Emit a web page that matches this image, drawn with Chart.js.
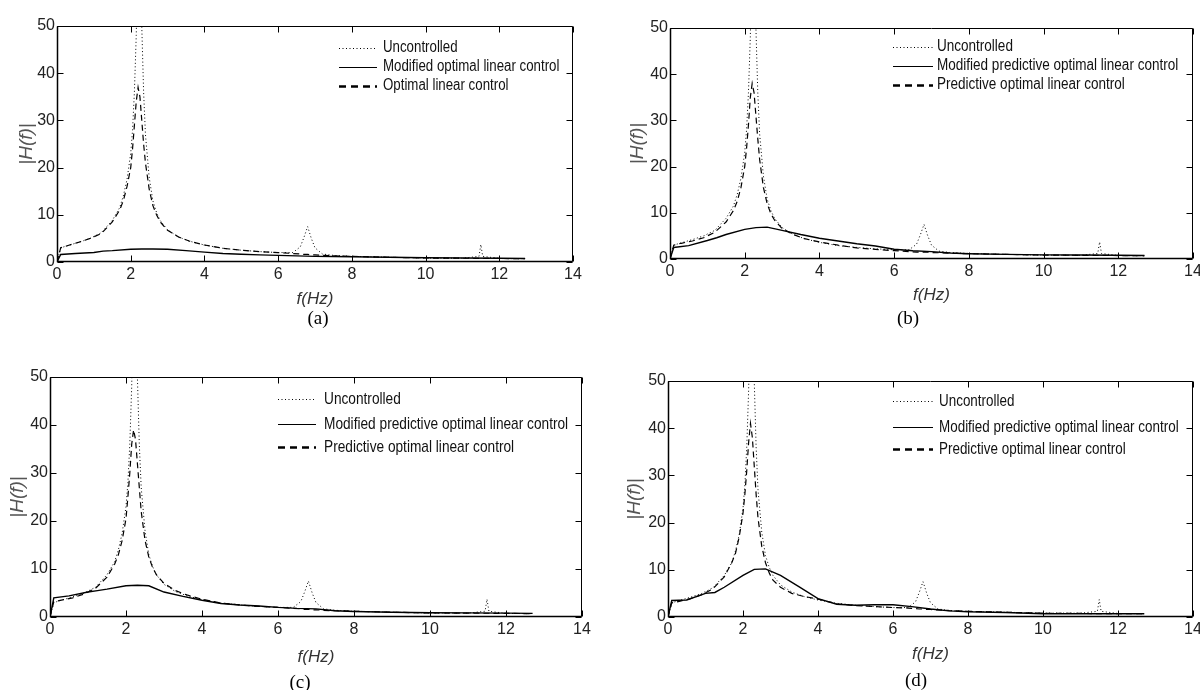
<!DOCTYPE html>
<html>
<head>
<meta charset="utf-8">
<title>|H(f)| frequency response</title>
<script src="https://cdn.jsdelivr.net/npm/chart.js@4.4.1/dist/chart.umd.min.js"></script>
<style>
    body { margin: 0; background: #fff; }
    #page { position: relative; width: 1200px; height: 690px; overflow: hidden; background: #fff; }
    .panel { position: absolute; }
    .caption {
        position: absolute;
        font-family: "Liberation Serif", "Times New Roman", serif;
        font-size: 19px;
        color: #000;
        transform: translate(-50%, -50%);
        white-space: nowrap;
    }
</style>
</head>
<body>
<div id="page">
    <div class="panel" style="left:0;top:0"><canvas id="chartA" width="600" height="340"></canvas></div>
    <div class="panel" style="left:600px;top:0"><canvas id="chartB" width="610" height="340"></canvas></div>
    <div class="panel" style="left:0;top:340px"><canvas id="chartC" width="600" height="350"></canvas></div>
    <div class="panel" style="left:600px;top:340px"><canvas id="chartD" width="610" height="350"></canvas></div>
    <div class="caption" style="left:318px;top:318px">(a)</div>
    <div class="caption" style="left:908px;top:318px">(b)</div>
    <div class="caption" style="left:300px;top:682px">(c)</div>
    <div class="caption" style="left:916px;top:680px">(d)</div>
</div>
<script>
// frequency grid used by the resonant curves (fine around 2.2 Hz, 6.8 Hz and 11.5 Hz)
const freqFine = [0, 0.1, 0.3, 0.6, 0.9, 1.2, 1.5, 1.7, 1.8, 1.9, 2.0, 2.05, 2.1, 2.15, 2.2, 2.25,
    2.3, 2.35, 2.4, 2.5, 2.6, 2.7, 2.8, 3.0, 3.3, 3.6, 4.0, 4.5, 5.0, 5.5, 6.0, 6.4,
    6.6, 6.7, 6.8, 6.9, 7.0, 7.2, 7.5, 8.0, 9.0, 10.0, 11.0, 11.45, 11.5, 11.55, 12.0, 12.7];

const uncontrolled = [0, 3.0, 3.5, 4.2, 5.0, 6.2, 8.8, 11.5, 14, 17.5, 23, 28, 36, 48, 70, 68,
    50, 36, 27, 18, 13, 10.5, 8.8, 6.8, 5.3, 4.4, 3.6, 2.9, 2.5, 2.2, 2.0, 2.0,
    3.2, 5.2, 7.5, 5.0, 3.0, 1.7, 1.4, 1.2, 1.0, 0.85, 0.8, 1.2, 3.7, 1.2, 0.75, 0.7];

const optimalA = [0, 3.0, 3.5, 4.2, 5.0, 6.0, 8.5, 11, 13, 16, 20, 24, 29, 34, 37, 35,
    30, 25, 21, 15.5, 12, 10, 8.5, 6.7, 5.3, 4.4, 3.6, 2.9, 2.5, 2.2, 2.0, 1.8,
    1.7, 1.6, 1.6, 1.5, 1.5, 1.4, 1.3, 1.2, 1.0, 0.85, 0.8, 0.78, 0.78, 0.78, 0.75, 0.7];

const predictiveB = [0, 3.0, 3.4, 3.9, 4.6, 5.8, 8.0, 10.5, 12.5, 15.5, 20, 24, 29, 35, 38, 36,
    31, 26, 21.5, 15.5, 12, 9.8, 8.4, 6.6, 5.3, 4.4, 3.7, 3.0, 2.4, 2.1, 1.8, 1.6,
    1.5, 1.5, 1.5, 1.5, 1.4, 1.35, 1.25, 1.15, 1.0, 0.85, 0.8, 0.78, 0.78, 0.78, 0.75, 0.7];

const predictiveC = [0, 3.2, 3.5, 4.0, 4.8, 6.0, 8.3, 11, 13, 16, 20.5, 25, 30, 36, 39, 37,
    32, 27, 22, 16, 12.5, 10.3, 8.8, 7.0, 5.5, 4.6, 3.7, 2.9, 2.5, 2.2, 2.0, 1.8,
    1.7, 1.6, 1.6, 1.5, 1.5, 1.4, 1.3, 1.2, 1.0, 0.85, 0.8, 0.78, 0.78, 0.78, 0.75, 0.7];

const predictiveD = [0, 3.0, 3.3, 3.9, 4.7, 6.0, 8.5, 11.5, 13.5, 17, 22, 26, 31, 37, 41, 38,
    32, 26, 21, 15, 11.5, 9.3, 7.8, 6.3, 5.0, 4.4, 3.8, 2.8, 2.4, 2.2, 2.0, 1.9,
    1.8, 1.7, 1.7, 1.6, 1.6, 1.5, 1.35, 1.2, 1.0, 0.8, 0.75, 0.72, 0.72, 0.72, 0.7, 0.7];

// coarser grid for the modified (smooth) responses
const freqCoarse = [0, 0.1, 0.5, 1.0, 1.25, 1.5, 2.0, 2.3, 2.6, 3.0, 3.5, 4.0, 4.5,
    5.0, 5.5, 6.0, 6.5, 7.0, 7.5, 8.0, 9.0, 10.0, 11.0, 12.0, 12.7];

const modifiedA = [0, 1.6, 1.8, 2.0, 2.3, 2.4, 2.7, 2.75, 2.75, 2.7, 2.4, 2.1, 1.8,
    1.65, 1.5, 1.4, 1.3, 1.2, 1.15, 1.1, 1.0, 0.9, 0.85, 0.8, 0.75];
const modifiedB = [0, 2.5, 2.9, 4.0, 4.6, 5.3, 6.4, 6.8, 6.9, 6.2, 5.3, 4.5, 3.9,
    3.3, 2.8, 2.1, 1.8, 1.6, 1.3, 1.15, 1.0, 0.9, 0.85, 0.8, 0.75];
const modifiedC = [0, 4.0, 4.4, 5.2, 5.5, 5.8, 6.5, 6.6, 6.5, 5.2, 4.3, 3.5, 2.8,
    2.5, 2.3, 2.0, 1.8, 1.7, 1.3, 1.15, 1.0, 0.9, 0.85, 0.8, 0.75];
const modifiedD = [0, 3.5, 3.6, 5.0, 5.2, 6.3, 8.8, 10.1, 10.2, 8.8, 6.4, 3.9, 2.7,
    2.5, 2.6, 2.6, 2.2, 1.7, 1.3, 1.1, 0.95, 0.7, 0.7, 0.7, 0.7];

const xTicks = [0, 2, 4, 6, 8, 10, 12, 14];
const yTicks = [0, 10, 20, 30, 40, 50];

const labelsA = ['Uncontrolled', 'Modified optimal linear control', 'Optimal linear control'];
const labelsPredictive = ['Uncontrolled', 'Modified predictive optimal linear control', 'Predictive optimal linear control'];

const FONT = '"Liberation Sans", Arial, Helvetica, sans-serif';

function toPoints(xs, ys) {
    return xs.map((x, i) => ({x: x, y: ys[i]}));
}

// box around the plot area with MATLAB style inward ticks on all four sides
const framePlugin = {
    id: 'frame',
    afterDatasetsDraw(chart) {
        const {ctx, chartArea: a, scales} = chart;
        const len = 6;
        const l = Math.round(a.left) + 0.5, r = Math.round(a.right) - 0.5;
        const t = Math.round(a.top) + 0.5, b = Math.round(a.bottom) - 0.5;
        ctx.save();
        ctx.strokeStyle = '#000';
        ctx.lineWidth = 1;
        ctx.beginPath();
        ctx.rect(l, t, r - l, b - t);
        xTicks.forEach(v => {
            const px = Math.round(scales.x.getPixelForValue(v)) + 0.5;
            ctx.moveTo(px, b); ctx.lineTo(px, b - len);
            ctx.moveTo(px, t); ctx.lineTo(px, t + len);
        });
        yTicks.forEach(v => {
            const py = Math.round(scales.y.getPixelForValue(v)) + 0.5;
            ctx.moveTo(l, py); ctx.lineTo(l + len, py);
            ctx.moveTo(r, py); ctx.lineTo(r - len, py);
        });
        ctx.stroke();
        // left and bottom axes are drawn a little heavier
        ctx.lineWidth = 1.5;
        ctx.beginPath();
        ctx.moveTo(l, t); ctx.lineTo(l, b); ctx.lineTo(r, b);
        ctx.stroke();
        ctx.restore();
    }
};

// legend drawn inside the plot area, without a box
const insideLegend = {
    id: 'insideLegend',
    afterDraw(chart, args, opts) {
        const ctx = chart.ctx;
        const styles = [
            {dash: [1, 2.5], width: 1},
            {dash: [], width: 1.2},
            {dash: [7, 5], width: 2.5}
        ];
        ctx.save();
        ctx.fillStyle = '#111';
        ctx.strokeStyle = '#000';
        ctx.textBaseline = 'middle';
        ctx.font = opts.fontSize + 'px ' + FONT;
        opts.labels.forEach((text, i) => {
            const y = Math.round(opts.rows[i]);
            ctx.lineWidth = styles[i].width;
            ctx.setLineDash(styles[i].dash);
            ctx.beginPath();
            ctx.moveTo(opts.x, y + 0.5);
            ctx.lineTo(opts.x + opts.lineLength, y + 0.5);
            ctx.stroke();
            ctx.save();
            ctx.translate(opts.x + opts.lineLength + opts.gap, y);
            ctx.scale(opts.squeeze, 1);
            ctx.fillText(text, 0, 0);
            ctx.restore();
        });
        ctx.restore();
    }
};

function buildPanel(canvasId, modified, optimal, labels, box) {
    const canvas = document.getElementById(canvasId);
    if (!canvas) return;
    new Chart(canvas, {
        type: 'line',
        data: {
            datasets: [{
                label: labels[0],
                data: toPoints(freqFine, uncontrolled),
                borderColor: '#000',
                borderWidth: 1,
                borderDash: [1, 2.5],
                pointRadius: 0,
                tension: 0
            }, {
                label: labels[1],
                data: toPoints(freqCoarse, modified),
                borderColor: '#000',
                borderWidth: 1.4,
                pointRadius: 0,
                tension: 0
            }, {
                label: labels[2],
                data: toPoints(freqFine, optimal),
                borderColor: '#000',
                borderWidth: 1.2,
                borderDash: [6, 4],
                pointRadius: 0,
                tension: 0
            }]
        },
        options: {
            responsive: false,
            animation: false,
            events: [],
            layout: {
                padding: {left: 0, top: box.top, right: box.right, bottom: box.bottom}
            },
            scales: {
                x: {
                    type: 'linear',
                    min: 0,
                    max: 14,
                    afterBuildTicks: scale => { scale.ticks = xTicks.map(v => ({value: v})); },
                    afterFit: scale => { scale.height = 60; },
                    grid: {display: false, drawTicks: false},
                    border: {display: false},
                    ticks: {
                        padding: 3,
                        maxRotation: 0,
                        color: '#222',
                        font: {family: FONT, size: 16}
                    },
                    title: {
                        display: true,
                        text: 'f(Hz)',
                        color: '#333',
                        font: {family: FONT, size: 17, style: 'italic'},
                        padding: {top: 0, bottom: box.xTitlePad}
                    }
                },
                y: {
                    type: 'linear',
                    min: 0,
                    max: 50,
                    afterBuildTicks: scale => { scale.ticks = yTicks.map(v => ({value: v})); },
                    afterFit: scale => { scale.width = box.left; },
                    grid: {display: false, drawTicks: false},
                    border: {display: false},
                    ticks: {
                        padding: 2,
                        color: '#222',
                        font: {family: FONT, size: 16}
                    },
                    title: {
                        display: true,
                        text: '|H(f)|',
                        color: '#555',
                        font: {family: FONT, size: 19, style: 'italic'},
                        padding: {top: box.yTitlePad, bottom: 0}
                    }
                }
            },
            plugins: {
                legend: {display: false},
                tooltip: {enabled: false},
                insideLegend: box.legend
            }
        },
        plugins: [framePlugin, insideLegend]
    });
}

document.addEventListener('DOMContentLoaded', function () {
    buildPanel('chartA', modifiedA, optimalA, labelsA, {
        left: 57, top: 26, right: 27, bottom: 18, xTitlePad: 13, yTitlePad: 15,
        legend: {labels: labelsA, x: 339, lineLength: 38, gap: 6, rows: [48, 67, 86], fontSize: 16, squeeze: 0.83}
    });
    buildPanel('chartB', modifiedB, predictiveB, labelsPredictive, {
        left: 70, top: 28, right: 17, bottom: 21, xTitlePad: 14, yTitlePad: 26,
        legend: {labels: labelsPredictive, x: 293, lineLength: 40, gap: 4, rows: [47, 66, 85], fontSize: 16, squeeze: 0.845}
    });
    buildPanel('chartC', modifiedC, predictiveC, labelsPredictive, {
        left: 50, top: 37, right: 18, bottom: 13, xTitlePad: 10, yTitlePad: 6,
        legend: {labels: labelsPredictive, x: 278, lineLength: 38, gap: 8, rows: [59, 84, 107], fontSize: 17, squeeze: 0.805}
    });
    buildPanel('chartD', modifiedD, predictiveD, labelsPredictive, {
        left: 68, top: 41, right: 17, bottom: 13, xTitlePad: 13, yTitlePad: 23,
        legend: {labels: labelsPredictive, x: 293, lineLength: 40, gap: 6, rows: [61, 87, 109], fontSize: 17, squeeze: 0.79}
    });
});
</script>
</body>
</html>
